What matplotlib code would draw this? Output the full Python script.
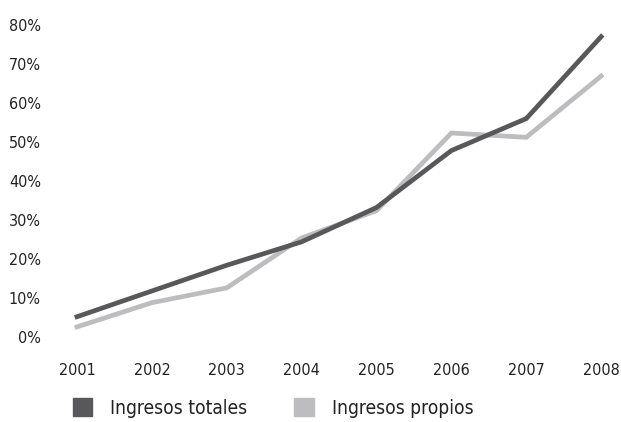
import matplotlib.pyplot as plt
from matplotlib.patches import Patch
from matplotlib.ticker import FuncFormatter

years = [2001, 2002, 2003, 2004, 2005, 2006, 2007, 2008]
totales = [5.2, 11.8, 18.4, 24.4, 33.2, 47.8, 56.0, 77.0]
propios = [2.6, 8.8, 12.6, 25.4, 32.4, 52.3, 51.2, 66.9]
labels = ['Ingresos totales', 'Ingresos propios']

dark = '#58585a'
light = '#bdbdc0'

plt.rcParams['font.family'] = ['DejaVu Sans']
plt.rcParams['font.stretch'] = 'condensed'

fig = plt.figure(figsize=(6.21, 4.22), dpi=100)
ax = fig.add_axes([0.124, 0.2014, 0.844, 0.7394])

ax.plot(years, propios, color=light, lw=3.4, clip_on=False, solid_joinstyle='miter')
ax.plot(years, totales, color=dark, lw=3.4, clip_on=False, solid_joinstyle='miter')

ax.set_xlim(2001, 2008)
ax.set_ylim(0, 80)
ax.set_xticks(years)
ax.set_yticks(range(0, 81, 10))
ax.yaxis.set_major_formatter(FuncFormatter(lambda v, p: '%d%%' % v))
for s in ax.spines.values():
    s.set_visible(False)
ax.tick_params(axis='both', length=0, labelsize=11.5, colors='#222222')
ax.tick_params(axis='y', pad=26)
ax.tick_params(axis='x', pad=19)

# legend with square swatches under the axis
handles = [Patch(color=dark), Patch(color=light)]
fig.legend(handles, labels, loc='center left', bbox_to_anchor=(73 / 621, 1 - 408 / 422),
           ncol=2, frameon=False, fontsize=13.8, handlelength=1.0, handleheight=1.0,
           handletextpad=0.95, columnspacing=2.45, borderpad=0, borderaxespad=0,
           labelcolor='#222222')

fig.savefig('out.png', dpi=100)
